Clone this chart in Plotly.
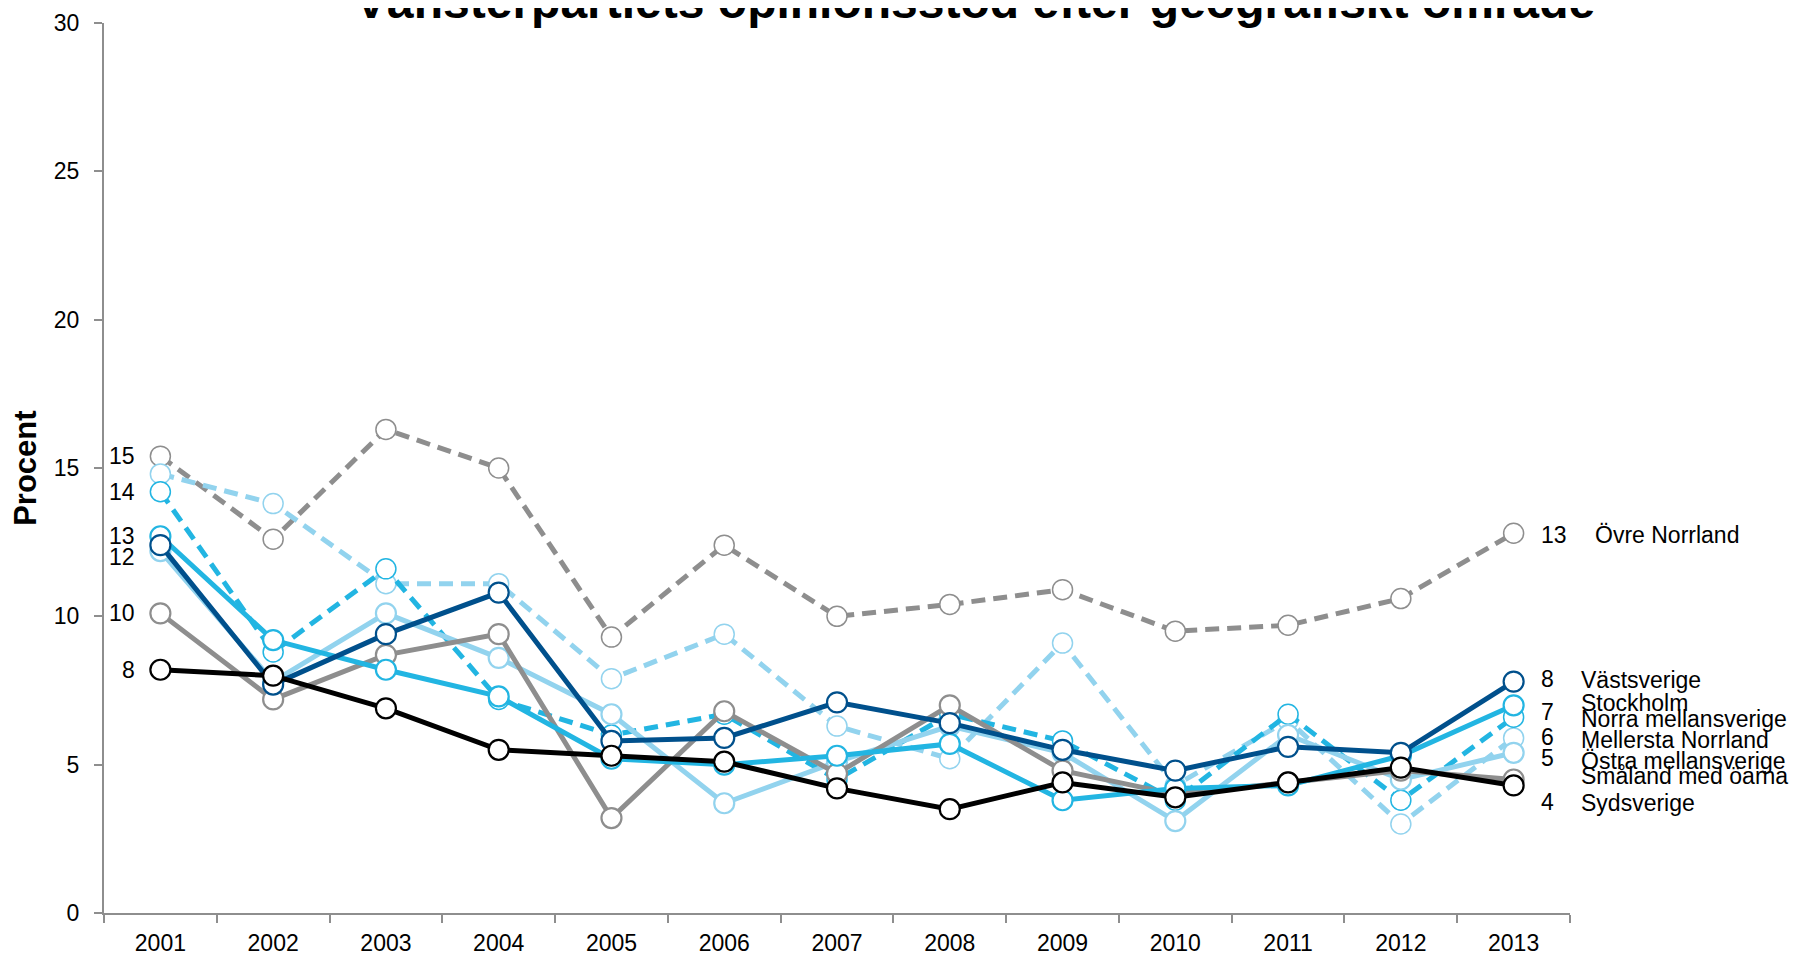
import plotly.graph_objects as go

# ---------------- data ----------------
years = ["2001", "2002", "2003", "2004", "2005", "2006", "2007",
         "2008", "2009", "2010", "2011", "2012", "2013"]

ovre_norrland = [15.4, 12.6, 16.3, 15.0, 9.3, 12.4, 10.0, 10.4, 10.9, 9.5, 9.7, 10.6, 12.8]
mellersta_norrland = [14.8, 13.8, 11.1, 11.1, 7.9, 9.4, 6.3, 5.2, 9.1, 4.3, 6.5, 3.0, 5.9]
norra_mellansverige = [14.2, 8.8, 11.6, 7.2, 6.0, 6.7, 4.5, 6.7, 5.8, 3.8, 6.7, 3.8, 6.6]
ostra_mellansverige = [12.2, 7.8, 10.1, 8.6, 6.7, 3.7, 5.1, 6.3, 5.4, 3.1, 6.0, 4.5, 5.4]
smaland_med_oarna = [10.1, 7.2, 8.7, 9.4, 3.2, 6.8, 4.7, 7.0, 4.8, 4.0, 4.4, 4.8, 4.5]
stockholm = [12.7, 9.2, 8.2, 7.3, 5.2, 5.0, 5.3, 5.7, 3.8, 4.2, 4.3, 5.3, 7.0]
vastsverige = [12.4, 7.7, 9.4, 10.8, 5.8, 5.9, 7.1, 6.4, 5.5, 4.8, 5.6, 5.4, 7.8]
sydsverige = [8.2, 8.0, 6.9, 5.5, 5.3, 5.1, 4.2, 3.5, 4.4, 3.9, 4.4, 4.9, 4.3]

series_names = ["Övre Norrland", "Mellersta Norrland", "Norra mellansverige",
                "Östra mellansverige", "Småland med öarna", "Stockholm",
                "Västsverige", "Sydsverige"]
series_values = [ovre_norrland, mellersta_norrland, norra_mellansverige,
                 ostra_mellansverige, smaland_med_oarna, stockholm,
                 vastsverige, sydsverige]

title_text = "Vänsterpartiets opinionsstöd efter geografiskt område"
y_title = "Procent"

# ---------------- styles ----------------
GRAY = "#8E8E8E"
DARK = "#00508C"
CYAN = "#22B5E2"
LIGHT = "#92D3EE"
styles = {
    "Övre Norrland": (GRAY, True),
    "Mellersta Norrland": (LIGHT, True),
    "Norra mellansverige": (CYAN, True),
    "Östra mellansverige": (LIGHT, False),
    "Småland med öarna": (GRAY, False),
    "Stockholm": (CYAN, False),
    "Västsverige": (DARK, False),
    "Sydsverige": ("#000000", False),
}

# which series get a value label at the first year (with a small vertical nudge in px)
left_labelled = {"Övre Norrland": 0, "Norra mellansverige": 0, "Stockholm": 0,
                 "Östra mellansverige": -6, "Småland med öarna": 0, "Sydsverige": 0}

# right-hand labels: text and label y position in axis units
right_numbers = [("13", 12.74), ("8", 7.89), ("7", 6.77), ("6", 5.93), ("5", 5.22), ("4", 3.74)]
right_names = [("Västsverige", 7.86), ("Stockholm", 7.08), ("Norra mellansverige", 6.54),
               ("Mellersta Norrland", 5.83), ("Östra mellansverige", 5.12),
               ("Småland med öarna", 4.63), ("Sydsverige", 3.71)]

FONT = "Liberation Sans, Arial, sans-serif"
FS = 23

fig = go.Figure()
for name, vals in zip(series_names, series_values):
    color, dashed = styles[name]
    fig.add_trace(go.Scatter(
        x=years, y=vals, name=name, mode="lines+markers",
        line=dict(color=color, width=5,
                  dash="14px,8px" if dashed else "solid"),
        marker=dict(size=20, color="white",
                    line=dict(color=color, width=1.5 if dashed else 2.2)),
        showlegend=False,
    ))

last = len(years) - 1
annotations = []
for name, vals in zip(series_names, series_values):
    if name in left_labelled:
        annotations.append(dict(
            x=0, y=vals[0], xref="x", yref="y", text=f"{vals[0]:.0f}",
            showarrow=False, xanchor="right", yanchor="middle", xshift=-23,
            yshift=left_labelled[name],
            font=dict(family=FONT, size=FS, color="black")))

for txt, yv in right_numbers:
    annotations.append(dict(
        x=last, y=yv, xref="x", yref="y", text=txt, showarrow=False,
        xanchor="left", yanchor="middle", xshift=25,
        font=dict(family=FONT, size=FS, color="black")))
annotations.append(dict(
    x=last, y=right_numbers[0][1], xref="x", yref="y", text=series_names[0],
    showarrow=False, xanchor="left", yanchor="middle", xshift=79,
    font=dict(family=FONT, size=FS, color="black")))
for txt, yv in right_names:
    annotations.append(dict(
        x=last, y=yv, xref="x", yref="y", text=txt, showarrow=False,
        xanchor="left", yanchor="middle", xshift=65,
        font=dict(family=FONT, size=FS, color="black")))

annotations.append(dict(
    x=0.594, y=1.0, xref="paper", yref="paper", text=f"<b>{title_text}</b>",
    showarrow=False, xanchor="center", yanchor="bottom", yshift=-7,
    font=dict(family=FONT, size=48, color="black")))
annotations.append(dict(
    x=-0.054, y=0.5, xref="paper", yref="paper", text=f"<b>{y_title}</b>",
    showarrow=False, xanchor="center", yanchor="middle", textangle=-90,
    font=dict(family=FONT, size=31, color="black")))

# page body has an 8px margin, so the figure is 8px smaller than the window
fig.update_layout(
    width=1791, height=949,
    margin=dict(l=96, r=229, t=15, b=44, autoexpand=False),
    paper_bgcolor="white", plot_bgcolor="white",
    annotations=annotations,
    xaxis=dict(type="category", range=[-0.5, 12.5], showgrid=False, zeroline=False,
               automargin=False,
               showline=True, linecolor=GRAY, linewidth=2,
               ticks="outside", tickson="boundaries", ticklen=8, tickcolor=GRAY, tickwidth=2,
               ticklabelstandoff=8,
               tickfont=dict(family=FONT, size=FS, color="black")),
    yaxis=dict(range=[0, 30], dtick=5, showgrid=False, zeroline=False,
               automargin=False,
               showline=True, linecolor=GRAY, linewidth=2,
               ticks="outside", ticklen=8, tickcolor=GRAY, tickwidth=2,
               ticklabelstandoff=10,
               tickfont=dict(family=FONT, size=FS, color="black")),
)

fig.write_html("out.html")
